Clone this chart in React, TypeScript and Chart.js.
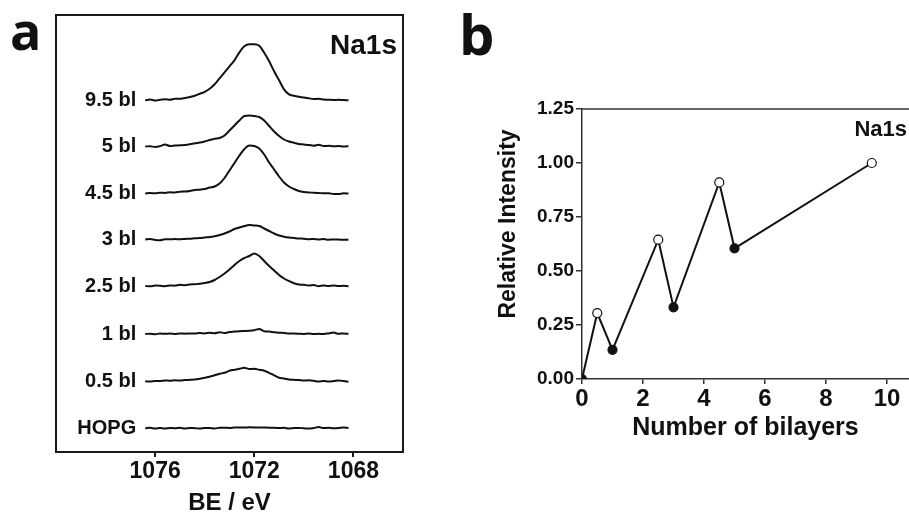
import React, { useEffect, useRef } from "react";
import { Chart, registerables } from "chart.js";

Chart.register(...registerables);

const FONT = "'Liberation Sans', Arial, Helvetica, sans-serif";
const INK = "#111";

// ---------- Panel a: Na1s XPS spectra ----------
const bindingEnergy = [
  1076.4, 1076.2, 1076.0, 1075.8, 1075.6, 1075.4, 1075.2, 1075.0, 1074.8, 1074.6,
  1074.4, 1074.2, 1074.0, 1073.8, 1073.6, 1073.4, 1073.2, 1073.0, 1072.8, 1072.6,
  1072.4, 1072.2, 1072.0, 1071.8, 1071.6, 1071.4, 1071.2, 1071.0, 1070.8, 1070.6,
  1070.4, 1070.2, 1070.0, 1069.8, 1069.6, 1069.4, 1069.2, 1069.0, 1068.8, 1068.6,
  1068.4, 1068.2,
];

const spectrumLabels = ["9.5 bl", "5 bl", "4.5 bl", "3 bl", "2.5 bl", "1 bl", "0.5 bl", "HOPG"];
const stackOffsets = [351.7, 305.5, 258.5, 212.5, 166, 118, 70.7, 23.7];

const na95 = [
  0, 0.8, -0.3, 0.6, 1.0, 0.5, 1.6, 1.5, 2.4, 3.4,
  4.6, 6.5, 8.5, 11.5, 16, 22, 28, 34, 40, 48,
  54, 56, 56, 54.5, 47.5, 39, 29, 20, 11, 6,
  4.5, 3.5, 2.8, 2.0, 1.2, 1.5, 0.8, 0.6, 0.3, 0.5, 0.2, 0,
];
const na5 = [
  0, 0.3, -0.5, 0.4, 2.0, 0.5, 1.0, 1.3, 1.5, 2.2,
  3.2, 4.0, 5.0, 6.5, 7.8, 8.5, 11, 16, 21, 26,
  30.5, 31, 30.5, 29.5, 26, 20.5, 15, 10.5, 7, 5,
  3.8, 2.5, 2.0, 1.5, 0.8, 1.8, 0.5, 0.7, 0.2, 0.5, 0, 0.3,
];
const na45 = [
  0, 0.4, 0.2, 0.8, 0.6, 1.2, 1.0, 1.8, 2.0, 2.6,
  3.5, 3.8, 4.5, 6.0, 7.0, 10, 15.5, 23, 30.5, 38,
  44.5, 48, 47.5, 45, 39, 31, 24, 17, 11, 7,
  4.5, 2.5, 1.5, 1.0, 0.8, 0.5, 0.2, 0.3, -0.5, -0.6, 0.2, 0,
];
const na3 = [
  0, 0.5, -0.4, -0.8, 0.3, 0.2, 0.5, 0.2, 0.6, 0.8,
  1.2, 1.5, 2.0, 2.5, 3.3, 4.5, 6.0, 8.0, 10.5, 12,
  13.5, 14.5, 14, 13.5, 11, 8.5, 6, 4, 2.8, 2,
  1.5, 1.0, 0.8, 0.2, 0.6, 0.0, 0.4, -0.2, 0.1, 0.0, -0.3, -0.2,
];
const na25 = [
  0, -0.3, 0.4, 0.2, -0.2, 0.5, 0.3, 1.2, 0.8, 1.5,
  1.8, 2.2, 3.0, 4.0, 6.0, 9.0, 12.5, 16.5, 21, 25,
  28, 30, 32.5, 30, 25, 20, 15.5, 11, 7.5, 5,
  2.8, 1.5, 1.2, 0.5, 1.0, -0.2, 0.6, 0.1, 0.4, -0.1, 0.3, -0.2,
];
const na1 = [
  0, 0.3, -0.3, 0.5, 0.2, 0.4, 0.1, 0.5, 0.3, 0.6,
  0.4, 0.9, 0.6, 1.2, 0.8, 1.8, 1.0, 2.0, 2.4, 2.8,
  3.0, 3.2, 3.8, 5.0, 2.8, 2.5, 1.8, 1.3, 1.0, 0.6,
  0.5, 0.3, 0.1, 0.4, 0, 0.2, 0, 0.6, 1.4, 0.2, 0.6, 0.2,
];
const na05 = [
  0, -0.3, 0.4, 0.3, 0.8, 0.6, 1.0, 0.8, 1.2, 1.5,
  1.8, 2.6, 3.5, 4.5, 6.0, 7.5, 8.5, 10.5, 11.5, 12.5,
  13.5, 12.3, 12.5, 11.5, 10.5, 8.5, 6, 3.5, 2.8, 1.8,
  1.5, 1.2, 0.8, 1.0, 0.5, -0.3, 0.3, -0.2, 0.2, 0.8, 0.3, -0.5,
];
const hopg = [
  0, 0.5, -0.3, 0.3, -0.2, 0.4, 0, 0.5, -0.2, 0.4,
  0.1, -0.3, 0.4, 0.3, -0.2, 0.5, 0.6, 0.3, 0.8, 0.9,
  0.8, 1.0, 0.9, 0.7, 0.9, 0.5, 0.6, 0.2, 0.5, -0.3,
  0.2, 0.4, 0.0, -0.3, 0.3, 1.2, 0.2, 0.6, 0.1, 0.3, 0.7, 0.4,
];
const spectraValues = [na95, na5, na45, na3, na25, na1, na05, hopg];
const beTicks = [1076, 1072, 1068];

// ---------- Panel b: relative intensity ----------
const bilayers = [0, 0.5, 1, 2.5, 3, 4.5, 5, 9.5];
const relIntensity = [0, 0.305, 0.135, 0.645, 0.332, 0.91, 0.605, 1.0];
const openMarker = [false, true, false, true, false, true, false, true];
const bilayerTicks = [0, 2, 4, 6, 8, 10];
const intensityTicks = [0, 0.25, 0.5, 0.75, 1.0, 1.25];

function PanelA() {
  const ref = useRef<HTMLCanvasElement>(null);
  useEffect(() => {
    const deco = {
      id: "decoA",
      afterDraw(chart: any) {
        const { ctx, chartArea: a } = chart;
        const xs = chart.scales.x;
        const ys = chart.scales.y;
        ctx.save();
        ctx.strokeStyle = "#1a1a1a";
        ctx.lineWidth = 2;
        ctx.strokeRect(a.left, a.top, a.right - a.left, a.bottom - a.top);
        ctx.fillStyle = INK;
        ctx.font = `bold 20px ${FONT}`;
        ctx.textAlign = "right";
        ctx.textBaseline = "middle";
        spectrumLabels.forEach((lab, i) => {
          ctx.fillText(lab, xs.getPixelForValue(bindingEnergy[0]) - 9, ys.getPixelForValue(stackOffsets[i]));
        });
        ctx.font = `bold 28px ${FONT}`;
        ctx.fillText("Na1s", a.right - 6, a.top + 31);
        ctx.restore();
      },
    };
    const chart = new Chart(ref.current as HTMLCanvasElement, {
      type: "line",
      data: {
        datasets: spectraValues.map((vals, i) => ({
          label: spectrumLabels[i],
          data: vals.map((v, j) => ({ x: bindingEnergy[j], y: stackOffsets[i] + v })),
          borderColor: INK,
          borderWidth: 2,
          pointRadius: 0,
          cubicInterpolationMode: "monotone",
          fill: false,
        })),
      },
      options: {
        responsive: false,
        animation: false,
        events: [],
        layout: { autoPadding: false, padding: { left: 56, top: 15, right: 47, bottom: 0 } },
        plugins: { legend: { display: false }, tooltip: { enabled: false } },
        scales: {
          x: {
            type: "linear",
            reverse: true,
            min: 1066,
            max: 1080,
            afterBuildTicks: (s: any) => {
              s.ticks = beTicks.map((v) => ({ value: v }));
            },
            afterFit: (s: any) => {
              s.height = 63;
            },
            grid: { drawOnChartArea: false, drawTicks: true, tickLength: 5, color: "#1a1a1a", lineWidth: 2 },
            border: { display: false },
            ticks: {
              color: INK,
              padding: 3,
              maxRotation: 0,
              font: { family: FONT, size: 23, weight: "bold", lineHeight: 1 },
              callback: (v: any) => String(v),
            },
            title: {
              display: true,
              text: "BE / eV",
              color: INK,
              padding: 0,
              font: { family: FONT, size: 24, weight: "bold", lineHeight: 1 },
            },
          },
          y: { type: "linear", display: false, min: 0, max: 437 },
        },
      } as any,
      plugins: [deco],
    });
    return () => chart.destroy();
  }, []);
  return (
    <canvas ref={ref} width={450} height={515} style={{ position: "absolute", left: 0, top: 0, display: "block" }} />
  );
}

function PanelB() {
  const ref = useRef<HTMLCanvasElement>(null);
  useEffect(() => {
    const deco = {
      id: "decoB",
      afterDraw(chart: any) {
        const { ctx, chartArea: a } = chart;
        ctx.save();
        ctx.strokeStyle = "#333";
        ctx.lineWidth = 1.5;
        ctx.beginPath();
        ctx.moveTo(a.left, a.top);
        ctx.lineTo(a.right, a.top);
        ctx.stroke();
        ctx.fillStyle = INK;
        ctx.font = `bold 23px ${FONT}`;
        ctx.textAlign = "center";
        ctx.textBaseline = "middle";
        ctx.translate(a.left - 73, a.top + 115);
        ctx.rotate(-Math.PI / 2);
        ctx.fillText("Relative Intensity", 0, 0);
        ctx.restore();
        ctx.save();
        ctx.fillStyle = INK;
        ctx.font = `bold 22px ${FONT}`;
        ctx.textAlign = "right";
        ctx.textBaseline = "middle";
        ctx.fillText("Na1s", a.right - 2, a.top + 21);
        ctx.restore();
      },
    };
    const chart = new Chart(ref.current as HTMLCanvasElement, {
      type: "line",
      data: {
        datasets: [
          {
            data: bilayers.map((b, i) => ({ x: b, y: relIntensity[i] })),
            borderColor: INK,
            borderWidth: 2,
            pointRadius: 4.5,
            pointBorderWidth: 1.2,
            pointBorderColor: INK,
            pointBackgroundColor: openMarker.map((o) => (o ? "#ffffff" : INK)),
            tension: 0,
            fill: false,
          },
        ],
      },
      options: {
        responsive: false,
        animation: false,
        events: [],
        layout: { autoPadding: false, padding: { left: 0, top: 109, right: 0, bottom: 74 } },
        plugins: { legend: { display: false }, tooltip: { enabled: false } },
        scales: {
          x: {
            type: "linear",
            min: 0,
            max: 10.72,
            afterBuildTicks: (s: any) => {
              s.ticks = bilayerTicks.map((v) => ({ value: v }));
            },
            afterFit: (s: any) => {
              s.height = 62;
            },
            grid: { drawOnChartArea: false, drawTicks: true, tickLength: 5, color: "#333", lineWidth: 1.5 },
            border: { display: true, color: "#333", width: 1.5 },
            ticks: {
              color: INK,
              padding: 3,
              maxRotation: 0,
              font: { family: FONT, size: 24, weight: "bold", lineHeight: 1 },
              callback: (v: any) => String(v),
            },
            title: {
              display: true,
              text: "Number of bilayers",
              color: INK,
              padding: 0,
              font: { family: FONT, size: 25, weight: "bold", lineHeight: 1 },
            },
          },
          y: {
            type: "linear",
            min: 0,
            max: 1.25,
            afterBuildTicks: (s: any) => {
              s.ticks = intensityTicks.map((v) => ({ value: v }));
            },
            afterFit: (s: any) => {
              s.width = 132;
            },
            grid: { drawOnChartArea: false, drawTicks: true, tickLength: 6, color: "#333", lineWidth: 1.5 },
            border: { display: true, color: "#333", width: 1.5 },
            ticks: {
              color: INK,
              padding: 2,
              font: { family: FONT, size: 19, weight: "bold", lineHeight: 1 },
              callback: (v: any) => Number(v).toFixed(2),
            },
            title: { display: false },
          },
        },
      } as any,
      plugins: [deco],
    });
    return () => chart.destroy();
  }, []);
  return (
    <canvas ref={ref} width={459} height={515} style={{ position: "absolute", left: 450, top: 0, display: "block" }} />
  );
}

const letterStyle: React.CSSProperties = {
  position: "absolute",
  fontFamily: "'Open Sans', 'Noto Sans', sans-serif",
  fontWeight: 700,
  lineHeight: 1,
  color: INK,
};

export default function App() {
  return (
    <div style={{ position: "fixed", left: 0, top: 0, width: 909, height: 515, background: "#fff", overflow: "hidden" }}>
      <PanelA />
      <PanelB />
      <div style={{ ...letterStyle, fontSize: 52, left: 10, top: 4 }}>a</div>
      <div style={{ ...letterStyle, fontSize: 56, left: 459, top: 5 }}>b</div>
    </div>
  );
}
